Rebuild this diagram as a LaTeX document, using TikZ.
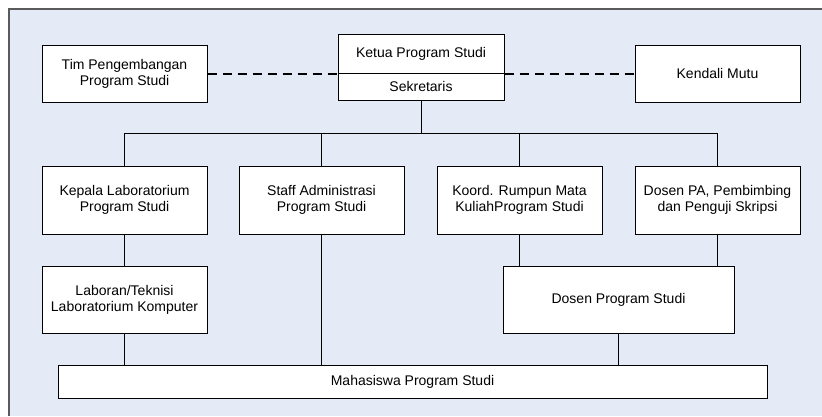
\documentclass[tikz,border=0pt]{standalone}
\usepackage{fontspec}
\setmainfont{Liberation Sans}
\usetikzlibrary{positioning}
\definecolor{panelblue}{RGB}{228,235,246}
\definecolor{panelline}{RGB}{90,90,90}
\tikzstyle{unit} = [rectangle, draw=black, fill=white, line width=1pt, align=center, inner sep=0pt, font=\fontsize{14}{16}\selectfont]
\tikzstyle{link} = [draw=black, line width=1pt]
\tikzstyle{coord} = [draw=black, line width=2pt, dash pattern=on 9pt off 6pt]

\begin{document}
\begin{tikzpicture}[x=1pt, y=-1pt]

    \useasboundingbox (0, 0) rectangle (822, 416);
    \fill[panelblue] (9, 9) rectangle (822, 416);
    \draw[panelline, line width=1.2pt] (822, 9) -- (9, 9) -- (9, 416);

    % top level
    \node(ketua)[unit, minimum width=166, minimum height=39] at (421, 53.5) {Ketua Program Studi};
    \node(sekre)[unit, minimum width=166, minimum height=27] at (421, 86.5) {Sekretaris};
    \node(tim)[unit, minimum width=165, minimum height=57] at (124.5, 73.5) {Tim Pengembangan\\Program Studi};
    \node(mutu)[unit, minimum width=165, minimum height=57] at (717.5, 73.5) {Kendali Mutu};

    \draw[coord] (tim.east) -- (ketua.south west);
    \draw[coord] (ketua.south east) -- (mutu.west);

    % second level
    \node(kalab)[unit, minimum width=165, minimum height=68] at (124.5, 200) {Kepala Laboratorium\\Program Studi};
    \node(staff)[unit, minimum width=165, minimum height=68] at (321.5, 200) {Staff Administrasi\\Program Studi};
    \node(rumpun)[unit, minimum width=165, minimum height=68] at (519.5, 200) {Koord. Rumpun Mata\\KuliahProgram Studi};
    \node(dosenpa)[unit, minimum width=165, minimum height=68] at (717.5, 200) {Dosen PA, Pembimbing\\dan Penguji Skripsi};

    \draw[link] (sekre.south) -- ++(0, 33) coordinate (hub);
    \draw[link] (kalab.north) |- (hub) -| (dosenpa.north);
    \draw[link] (staff.north) -- (staff.north |- hub);
    \draw[link] (rumpun.north) -- (rumpun.north |- hub);

    % third level
    \node(laboran)[unit, minimum width=165, minimum height=67] at (124.5, 299.5) {Laboran/Teknisi\\Laboratorium Komputer};
    \node(dosen)[unit, minimum width=231, minimum height=67] at (618.5, 299.5) {Dosen Program Studi};

    \draw[link] (kalab.south) -- (laboran.north);
    \draw[link] (rumpun.south) -- (rumpun.south |- dosen.north);
    \draw[link] (dosenpa.south) -- (dosenpa.south |- dosen.north);

    % students
    \node(mhs)[unit, minimum width=709, minimum height=33] at (412.5, 381.5) {Mahasiswa Program Studi};

    \draw[link] (laboran.south) -- (laboran.south |- mhs.north);
    \draw[link] (staff.south) -- (staff.south |- mhs.north);
    \draw[link] (dosen.south) -- (dosen.south |- mhs.north);

\end{tikzpicture}
\end{document}
